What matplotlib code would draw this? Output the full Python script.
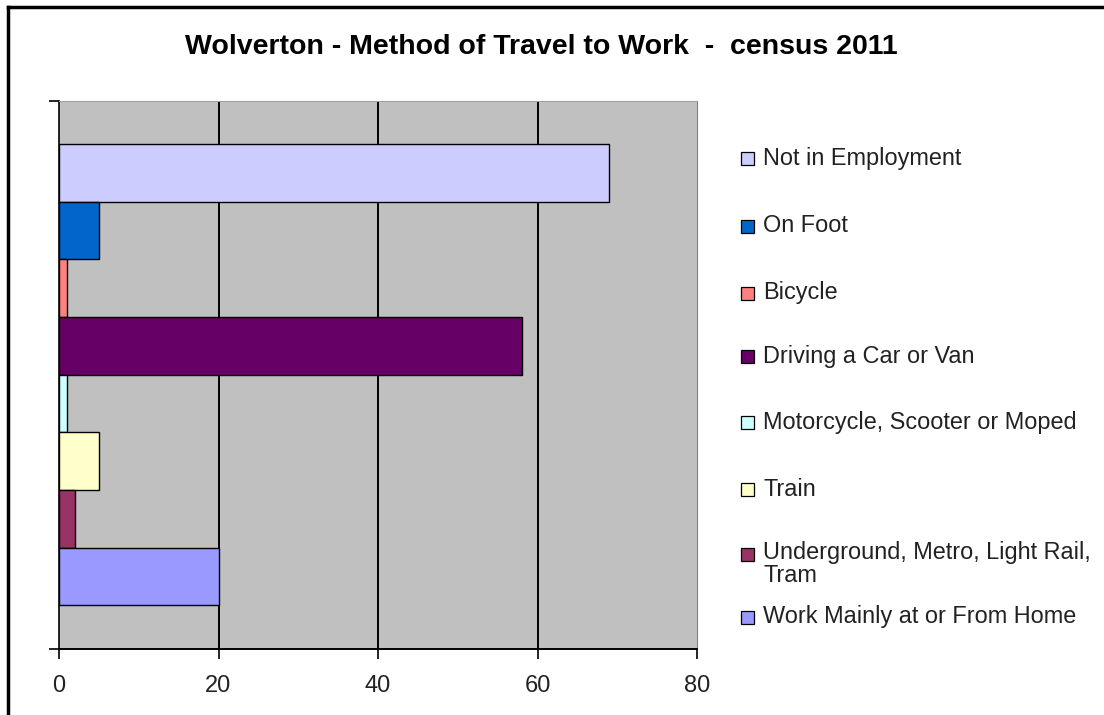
import matplotlib.pyplot as plt
from matplotlib.patches import Rectangle
from matplotlib.lines import Line2D

plt.rcParams['font.family'] = ['Liberation Sans', 'DejaVu Sans']

# Travel to work, Wolverton (census 2011) - one bar per method, top to bottom
methods = ["Not in Employment", "On Foot", "Bicycle", "Driving a Car or Van",
           "Motorcycle, Scooter or Moped", "Train",
           "Underground, Metro, Light Rail,\nTram", "Work Mainly at or From Home"]
values = [69, 5, 1, 58, 1, 5, 2, 20]
colors = ["#CCCCFF", "#0066CC", "#FF8080", "#660066",
          "#CCFFFF", "#FFFFCC", "#993366", "#9999FF"]
xticks = [0, 20, 40, 60, 80]

W, H = 1104, 715
fig = plt.figure(figsize=(W / 100, H / 100), dpi=100)
ax = fig.add_axes([59 / W, 1 - 649 / H, (697 - 59) / W, (649 - 101) / H])
ax.set_facecolor("#C0C0C0")

ypos = [-i for i in range(len(values))]
ax.barh(ypos, values, height=1.0, color=colors, edgecolor="black",
        linewidth=1.0, zorder=3)

ax.set_xlim(0, 80)
ax.set_ylim(-8.26, 1.25)
ax.set_xticks(xticks)
ax.set_xticklabels([str(t) for t in xticks], fontsize=17, color="#222222")
ax.set_yticks([-8.26, 1.25])
ax.set_yticklabels([])
ax.tick_params(axis="x", length=7, width=1.2, pad=12)
ax.tick_params(axis="y", length=7, width=1.2)
for g in xticks[1:-1]:
    ax.axvline(g, color="black", linewidth=1.4, zorder=2)

ax.spines["left"].set_linewidth(1.2)
ax.spines["bottom"].set_linewidth(1.4)
ax.spines["right"].set_color("#808080")
ax.spines["top"].set_color("#A0A0A0")
ax.spines["bottom"].set_zorder(4)

fig.text(541 / W, 1 - 47 / H, "Wolverton - Method of Travel to Work  -  census 2011",
         ha="center", va="center", fontsize=20.5, fontweight="bold")

# legend drawn as key squares + labels on the figure
label_y = [158, 226, 293, 357, 422, 489, 564, 617]
key_y = [158, 226, 293, 357, 422, 489, 554, 617]
for name, col, ly, ky in zip(methods, colors, label_y, key_y):
    fig.patches.append(Rectangle((741 / W, 1 - (ky + 6.5) / H), 13 / W, 13 / H,
                                 transform=fig.transFigure, facecolor=col,
                                 edgecolor="black", linewidth=0.9))
    fig.text(763 / W, 1 - ly / H, name, ha="left", va="center",
             fontsize=16.9, color="#222222", linespacing=0.95)

# chart frame (left and top edges)
fig.add_artist(Line2D([8 / W, 8 / W], [0, 1 - 7 / H], transform=fig.transFigure,
                      color="black", linewidth=2.5))
fig.add_artist(Line2D([8 / W, 1], [1 - 7 / H, 1 - 7 / H], transform=fig.transFigure,
                      color="black", linewidth=2.5))

fig.savefig("out.png", dpi=100)
